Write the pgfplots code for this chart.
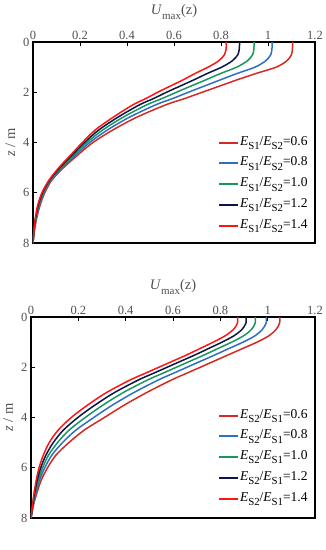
\documentclass[border=0pt]{standalone}
\usepackage{pgfplots}
\pgfplotsset{compat=1.18}
\usepackage{fontspec}
\setmainfont{Liberation Serif}
\definecolor{cRsix}{HTML}{D42A22}
\definecolor{cBl}{HTML}{2F6EC0}
\definecolor{cGr}{HTML}{16985A}
\definecolor{cBk}{HTML}{0C1548}
\definecolor{cRfour}{HTML}{FF1414}
\definecolor{tk}{HTML}{505050}
\newcommand{\sub}[1]{\raisebox{-0.32em}{\fontsize{10.8}{12}\selectfont #1}}
\newcommand{\ratio}[3]{\textit{E}\sub{#1}/\textit{E}\sub{#2}=#3}

\pgfplotstableread{
z    r06   b08   g10   k12   r14
0.0  1.105 1.017 0.941 0.879 0.822
0.25 1.104 1.017 0.940 0.878 0.822
0.5  1.100 1.012 0.935 0.872 0.815
0.75 1.080 0.990 0.912 0.848 0.790
1.0  1.035 0.945 0.867 0.803 0.745
1.25 0.950 0.869 0.799 0.742 0.690
1.5  0.870 0.799 0.737 0.686 0.640
1.75 0.795 0.730 0.673 0.627 0.585
2.0  0.720 0.661 0.610 0.568 0.530
2.25 0.645 0.594 0.549 0.513 0.480
2.5  0.565 0.522 0.484 0.453 0.425
3.0  0.440 0.409 0.382 0.360 0.340
3.5  0.340 0.317 0.297 0.280 0.265
4.0  0.255 0.241 0.229 0.219 0.210
4.5  0.190 0.181 0.173 0.166 0.160
5.0  0.130 0.124 0.118 0.114 0.110
5.5  0.080 0.076 0.073 0.070 0.068
6.0  0.050 0.046 0.043 0.040 0.038
6.5  0.030 0.027 0.024 0.022 0.020
7.0  0.016 0.014 0.013 0.011 0.010
7.5  0.006 0.005 0.005 0.004 0.004
8.0  0.000 0.000 0.000 0.000 0.000
}\dataA

\pgfplotstableread{
z    r06   b08   g10   k12   r14
0.0  1.052 0.995 0.948 0.909 0.873
0.25 1.050 0.993 0.947 0.908 0.872
0.5  1.035 0.977 0.931 0.891 0.855
0.75 1.005 0.946 0.898 0.857 0.820
1.0  0.955 0.896 0.848 0.807 0.770
1.25 0.895 0.837 0.791 0.751 0.715
1.5  0.835 0.779 0.734 0.695 0.660
1.75 0.775 0.719 0.674 0.635 0.600
2.0  0.715 0.659 0.614 0.575 0.540
2.25 0.655 0.599 0.554 0.515 0.480
2.5  0.595 0.539 0.494 0.455 0.420
3.0  0.490 0.436 0.391 0.354 0.320
3.5  0.395 0.345 0.305 0.271 0.240
4.0  0.310 0.265 0.229 0.198 0.170
4.5  0.225 0.190 0.161 0.137 0.115
5.0  0.160 0.133 0.112 0.094 0.077
5.5  0.105 0.088 0.074 0.063 0.052
6.0  0.070 0.058 0.049 0.041 0.034
6.5  0.043 0.036 0.031 0.026 0.022
7.0  0.025 0.021 0.018 0.015 0.013
7.5  0.010 0.009 0.008 0.007 0.006
8.0  0.000 0.000 0.000 0.000 0.000
}\dataB

\pgfplotsset{
  myax/.style={
    scale only axis, width=282pt, height=201pt,
    xmin=0, xmax=1.2, ymin=0, ymax=8, y dir=reverse,
    xtick={0,0.2,...,1.2}, ytick={0,2,4,6,8},
    xtick pos=right, xticklabel pos=right, ytick pos=left,
    tick align=inside, major tick length=4pt,
    axis line style={line width=1.2pt}, tick style={line width=0.6pt, black},
    every tick label/.append style={font=\fontsize{12.5}{14}\selectfont, text=tk},
    /pgf/number format/assume math mode=true,
    xticklabel style={yshift=-1pt},
    xlabel={\textit{U}\raisebox{-0.35em}{\fontsize{11}{12}\selectfont max}(z)},
    xlabel style={font=\fontsize{14.5}{16}\selectfont, text=tk, at={(axis description cs:0.5,1)}, anchor=center, yshift=30pt},
    ylabel={\textit{z} / m},
    ylabel style={font=\fontsize{14.5}{16}\selectfont, text=tk, at={(axis description cs:-0.08,0.5)}, anchor=center},
    legend cell align=left,
    legend style={draw=none, fill=none, font=\fontsize{13.5}{15}\selectfont,
      anchor=north east,
      row sep=7.7pt, inner sep=0pt, nodes={inner xsep=1pt, inner ysep=0pt, text height=9pt, text depth=4pt}},
    legend image code/.code={\draw[#1, line width=2pt] (0pt,0pt) -- (19pt,0pt);},
    every axis plot/.append style={line width=1.5pt, smooth, no markers},
  }
}

\begin{document}
\begin{tikzpicture}
\useasboundingbox (0pt,0pt) rectangle (326pt,-550pt);
\begin{axis}[myax, at={(33pt,-243pt)}, anchor=south west,
  legend style={at={(axis description cs:0.978,0.532)}}]
\addplot[cRsix] table[x=r06,y=z] {\dataA};
\addlegendentry{\ratio{S1}{S2}{0.6}}
\addplot[cBl] table[x=b08,y=z] {\dataA};
\addlegendentry{\ratio{S1}{S2}{0.8}}
\addplot[cGr] table[x=g10,y=z] {\dataA};
\addlegendentry{\ratio{S1}{S2}{1.0}}
\addplot[cBk] table[x=k12,y=z] {\dataA};
\addlegendentry{\ratio{S1}{S2}{1.2}}
\addplot[cRfour] table[x=r14,y=z] {\dataA};
\addlegendentry{\ratio{S1}{S2}{1.4}}
\node[font=\bfseries\fontsize{13}{15}\selectfont] at (axis description cs:0.5,-0.095) {(a)};
\end{axis}
\begin{axis}[myax, at={(31pt,-518pt)}, anchor=south west, width=284pt,
  legend style={at={(axis description cs:0.978,0.542)}}]
\addplot[cRsix] table[x=r06,y=z] {\dataB};
\addlegendentry{\ratio{S2}{S1}{0.6}}
\addplot[cBl] table[x=b08,y=z] {\dataB};
\addlegendentry{\ratio{S2}{S1}{0.8}}
\addplot[cGr] table[x=g10,y=z] {\dataB};
\addlegendentry{\ratio{S2}{S1}{1.0}}
\addplot[cBk] table[x=k12,y=z] {\dataB};
\addlegendentry{\ratio{S2}{S1}{1.2}}
\addplot[cRfour] table[x=r14,y=z] {\dataB};
\addlegendentry{\ratio{S2}{S1}{1.4}}
\node[font=\bfseries\fontsize{13}{15}\selectfont] at (axis description cs:0.5,-0.095) {(b)};
\end{axis}
\end{tikzpicture}
\end{document}
